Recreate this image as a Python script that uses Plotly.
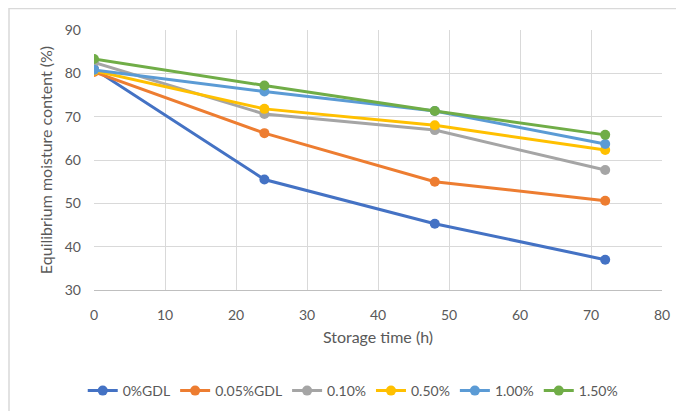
import plotly.graph_objects as go

time_h = [0, 24, 48, 72]
series_names = ["0%GDL", "0.05%GDL", "0.10%", "0.50%", "1.00%", "1.50%"]
gdl_0 = [81.0, 55.5, 45.3, 37.0]
gdl_005 = [80.3, 66.2, 55.0, 50.6]
gdl_010 = [82.5, 70.6, 66.9, 57.7]
gdl_050 = [80.6, 71.8, 68.0, 62.3]
gdl_100 = [80.8, 75.8, 71.3, 63.7]
gdl_150 = [83.3, 77.2, 71.3, 65.8]
colors = ["#4472C4", "#ED7D31", "#A5A5A5", "#FFC000", "#5B9BD5", "#70AD47"]

values = [gdl_0, gdl_005, gdl_010, gdl_050, gdl_100, gdl_150]

W, H = 684, 411
ml, mr, mt, mb = 86, 30, 22, 129
pw, ph = W - ml - mr, H - mt - mb

fig = go.Figure()
for name, vals, c in zip(series_names, values, colors):
    fig.add_trace(go.Scatter(
        x=time_h, y=vals, name=name, mode="lines+markers",
        line=dict(color=c, width=3),
        marker=dict(color=c, size=10),
    ))

font = "Lato, 'Open Sans', sans-serif"
fig.update_layout(
    width=W, height=H,
    margin=dict(l=ml, r=mr, t=mt, b=mb),
    paper_bgcolor="white", plot_bgcolor="white",
    font=dict(family=font, color="#595959", size=14),
    xaxis=dict(range=[0, 80], dtick=10, showgrid=True, gridcolor="#D9D9D9", gridwidth=1,
               zeroline=False, showline=True, linecolor="#BFBFBF", linewidth=1, mirror=False,
               ticks="", ticklabelstandoff=12, tickfont=dict(size=14, color="#595959"),
               title=dict(text="Storage time (h)", font=dict(size=16, color="#595959"), standoff=10)),
    yaxis=dict(range=[30, 90], dtick=10, showgrid=True, gridcolor="#D9D9D9", gridwidth=1,
               zeroline=False, showline=False, ticks="", ticklabelstandoff=12,
               tickfont=dict(size=14, color="#595959"),
               title=dict(text="Equilibrium moisture content (%)", font=dict(size=16, color="#595959"), standoff=8)),
    legend=dict(orientation="h", xref="container", yref="container", x=0.504, xanchor="center",
                y=1 - 383 / H, yanchor="middle", font=dict(size=14, color="#595959"),
                itemwidth=30, tracegroupgap=0, bgcolor="rgba(0,0,0,0)"),
    showlegend=True,
)

fig.add_shape(type="rect", xref="paper", yref="paper",
              x0=(1 - ml) / pw, x1=(682 - ml) / pw,
              y0=(H - mb - 409.5) / ph, y1=(H - mb - 0.5) / ph,
              line=dict(color="#D9D9D9", width=1.5), fillcolor="rgba(0,0,0,0)", layer="below")

fig.write_html("out.html")
